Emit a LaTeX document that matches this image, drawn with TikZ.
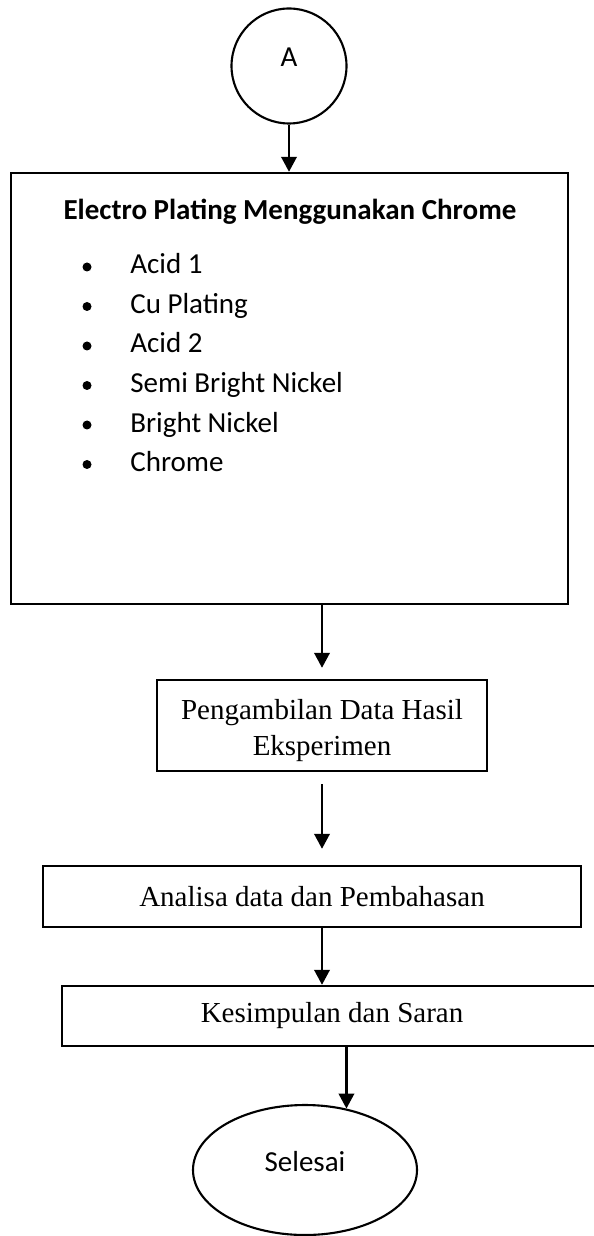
\documentclass[tikz,border=0pt]{standalone}
\usepackage{fontspec}
\setmainfont{Carlito}
\newfontfamily\timesfont{Liberation Serif}
\usetikzlibrary{arrows.meta,shapes.geometric}

\tikzset{
  box/.style={draw, line width=1.4pt, inner sep=0pt},
  flow/.style={-{Triangle[width=0.31cm,length=0.3cm]}, line width=1.3pt},
  serif/.style={font=\fontsize{16.5}{21}\selectfont\timesfont},
}

\begin{document}
\begin{tikzpicture}[font=\fontsize{16.5}{21}\selectfont]
  \useasboundingbox (0,0) rectangle (11.86,-24.72);
  % konektor A
  \node[box, line width=1.2pt, circle, minimum size=2.3cm, label={[yshift=0.18cm]center:A}] (conA) at (5.78,-1.32) {};
  % proses electro plating
  \node[box, minimum width=11.14cm, minimum height=8.62cm] (electro) at (5.79,-7.77) {};
  \node[anchor=base, inner sep=0pt] (judul) at (5.80,-4.40) {\bfseries Electro Plating Menggunakan Chrome};
  \foreach \entry [count=\i] in {Acid 1, Cu Plating, Acid 2, Semi Bright Nickel, Bright Nickel, Chrome} {
    \node[anchor=base west, inner sep=0pt] (tahap\i) at (2.60,{-5.48-0.79*(\i-1)}) {\entry};
    \fill (1.74,{-5.34-0.79*(\i-1)}) circle (0.09);
  }
  % pengambilan data
  \node[box, minimum width=6.6cm, minimum height=1.82cm] (data) at (6.44,-14.51) {};
  \node[serif, align=center, inner sep=0pt] (dataTeks) at (6.44,-14.61) {Pengambilan Data Hasil\\Eksperimen};
  \node[box, serif, minimum width=10.76cm, minimum height=1.22cm] (analisa) at (6.24,-17.93) {Analisa data dan Pembahasan};
  \node[box, serif, minimum width=10.8cm, minimum height=1.2cm] (kesimpulan) at (6.64,-20.32) {Kesimpulan dan Saran};
  \node[box, line width=1.2pt, ellipse, minimum width=4.48cm, minimum height=2.6cm, label={[yshift=0.16cm]center:Selesai}] (selesai) at (6.10,-23.40) {};
  % panah
  \draw[flow] (conA.south) -- (conA.south |- electro.north);
  \draw[flow, shorten >=0.22cm] (data.north |- electro.south) -- (data.north);
  \draw[flow, shorten <=0.24cm, shorten >=0.32cm] (data.south) -- (data.south |- analisa.north);
  \draw[flow] (analisa.south -| data.south) -- (kesimpulan.north -| data.south);
  \draw[flow] (kesimpulan.south -| selesai.56) -- (selesai.56);
\end{tikzpicture}
\end{document}
